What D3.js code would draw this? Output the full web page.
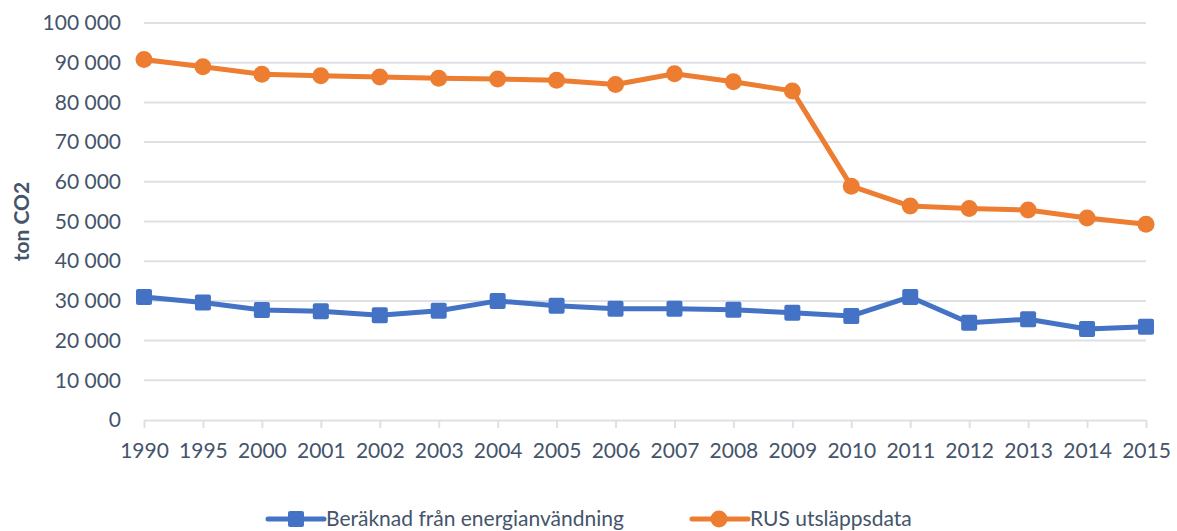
<!DOCTYPE html>
<html>
<head>
<meta charset="utf-8">
<script src="https://cdn.jsdelivr.net/npm/d3@7"></script>
<style>
  body { margin: 0; background: #fff; }
  svg { display: block; }
</style>
</head>
<body>
<div id="chart"></div>
<script>
// ─── Data ─────────────────────────────────────────────────────────────────
const years = ['1990', '1995', '2000', '2001', '2002', '2003', '2004', '2005', '2006',
               '2007', '2008', '2009', '2010', '2011', '2012', '2013', '2014', '2015'];
const energyCalc = [31000, 29600, 27700, 27400, 26400, 27500, 30000, 28800, 28000,
                    28000, 27800, 27000, 26200, 31000, 24500, 25400, 22900, 23500];
const rusData = [90800, 89000, 87100, 86700, 86400, 86100, 85900, 85600, 84500,
                 87200, 85200, 82900, 58900, 53900, 53300, 52900, 50900, 49300];
const yTicks = [0, 10000, 20000, 30000, 40000, 50000, 60000, 70000, 80000, 90000, 100000];
const seriesNames = ['Beräknad från energianvändning', 'RUS utsläppsdata'];

const W = 1177, H = 531;
const margin = { left: 144, right: 31, top: 23, bottom: 111 };
const FONT = 'Lato, "Open Sans", sans-serif';
const TEXT = '#44546a';
const GRID = '#dde1e6';
const BLUE = '#4472c4';
const ORANGE = '#ed7d31';

const svg = d3.select('#chart').append('svg').attr('width', W).attr('height', H);

const x = d3.scalePoint().domain(years).range([margin.left, W - margin.right]);
const y = d3.scaleLinear().domain([0, 100000]).range([H - margin.bottom, margin.top]);

const fmt = v => d3.format(',')(v).replace(/,/g, ' ');

// Gridlines
svg.append('g')
    .selectAll('line')
    .data(yTicks.filter(t => t > 0))
    .enter().append('line')
    .attr('x1', margin.left).attr('x2', W - margin.right)
    .attr('y1', d => y(d)).attr('y2', d => y(d))
    .attr('stroke', GRID).attr('stroke-width', 2);

// Y axis labels
const yAxis = svg.append('g')
    .attr('transform', `translate(${margin.left},0)`)
    .call(d3.axisLeft(y).tickValues(yTicks).tickFormat(fmt).tickSize(0).tickPadding(23));
yAxis.select('.domain').remove();
yAxis.selectAll('text')
    .attr('fill', TEXT).style('font-family', FONT).style('font-size', '21px');

// X axis
const xAxis = svg.append('g')
    .attr('transform', `translate(0,${y(0)})`)
    .call(d3.axisBottom(x).tickSizeInner(8).tickSizeOuter(0).tickPadding(15));
xAxis.select('.domain').attr('stroke', GRID).attr('stroke-width', 2);
xAxis.selectAll('.tick line').attr('stroke', GRID).attr('stroke-width', 2);
xAxis.selectAll('text')
    .attr('fill', TEXT).style('font-family', FONT).style('font-size', '21px');

// Y axis title
svg.append('text')
    .attr('transform', `translate(29,${(y(0) + y(100000)) / 2}) rotate(-90)`)
    .attr('text-anchor', 'middle')
    .attr('fill', TEXT)
    .style('font-family', FONT).style('font-size', '21px').style('font-weight', 'bold')
    .text('ton CO2');

// Lines
const line = d3.line().x((d, i) => x(years[i])).y(d => y(d));

svg.append('path').datum(energyCalc)
    .attr('d', line).attr('fill', 'none')
    .attr('stroke', BLUE).attr('stroke-width', 5).attr('stroke-linejoin', 'round');
svg.append('path').datum(rusData)
    .attr('d', line).attr('fill', 'none')
    .attr('stroke', ORANGE).attr('stroke-width', 5).attr('stroke-linejoin', 'round');

// Markers
svg.append('g').selectAll('rect')
    .data(energyCalc)
    .enter().append('rect')
    .attr('x', (d, i) => x(years[i]) - 8).attr('y', d => y(d) - 8)
    .attr('width', 16).attr('height', 16).attr('rx', 2)
    .attr('fill', BLUE);
svg.append('g').selectAll('circle')
    .data(rusData)
    .enter().append('circle')
    .attr('cx', (d, i) => x(years[i])).attr('cy', d => y(d))
    .attr('r', 8.5)
    .attr('fill', ORANGE);

// Legend
const legendY = 519;
const legend = [
    { name: seriesNames[0], color: BLUE, x0: 268, shape: 'square' },
    { name: seriesNames[1], color: ORANGE, x0: 692, shape: 'circle' }
];
legend.forEach(l => {
    const g = svg.append('g');
    g.append('line')
        .attr('x1', l.x0).attr('x2', l.x0 + 56)
        .attr('y1', legendY).attr('y2', legendY)
        .attr('stroke', l.color).attr('stroke-width', 5).attr('stroke-linecap', 'round');
    if (l.shape === 'square') {
        g.append('rect')
            .attr('x', l.x0 + 28 - 8).attr('y', legendY - 8)
            .attr('width', 16).attr('height', 16).attr('rx', 2)
            .attr('fill', l.color);
    } else {
        g.append('circle')
            .attr('cx', l.x0 + 27).attr('cy', legendY).attr('r', 8.5)
            .attr('fill', l.color);
    }
    g.append('text')
        .attr('x', l.x0 + 58).attr('y', legendY).attr('dy', '0.35em')
        .attr('fill', TEXT)
        .style('font-family', FONT).style('font-size', '21px')
        .text(l.name);
});
</script>
</body>
</html>
